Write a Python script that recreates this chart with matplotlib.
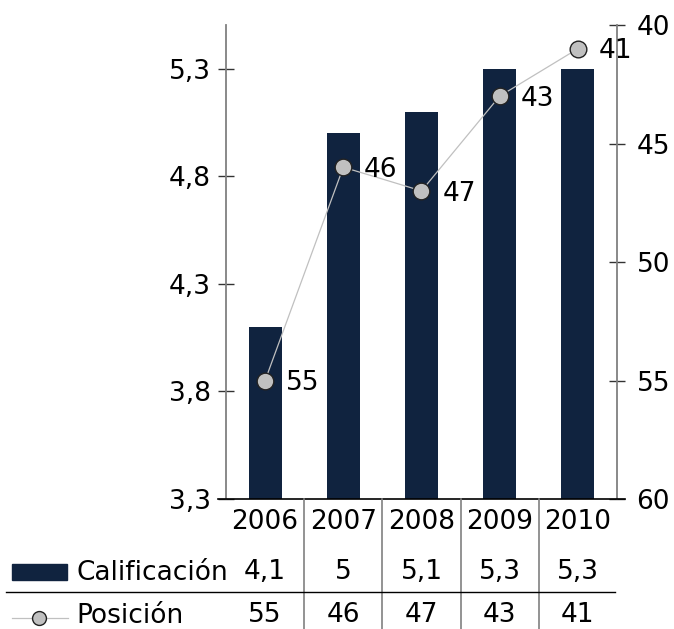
import matplotlib.pyplot as plt
from matplotlib.lines import Line2D
from matplotlib.patches import Rectangle
import matplotlib.transforms as mtransforms

# datos
anios = ["2006", "2007", "2008", "2009", "2010"]
calificacion = [4.1, 5.0, 5.1, 5.3, 5.3]
posicion = [55, 46, 47, 43, 41]
calif_txt = ["4,1", "5", "5,1", "5,3", "5,3"]
ticks_izq = [3.3, 3.8, 4.3, 4.8, 5.3]
ticks_der = [40, 45, 50, 55, 60]

W, H = 674, 629
FS = 19
COLOR_BARRA = "#10233f"
GRIS = "#808080"

plt.rcParams['font.family'] = ['DejaVu Sans']

fig = plt.figure(figsize=(W / 100, H / 100), dpi=100)
ax = fig.add_axes([226 / W, 1 - 499 / H, 391 / W, 474 / H])
ax2 = ax.twinx()

x = list(range(len(anios)))
ax.bar(x, calificacion, width=0.42, color=COLOR_BARRA, zorder=2)
ax.set_xlim(-0.5, len(anios) - 0.5)
ax.set_ylim(3.3, 5.504)
ax.set_yticks(ticks_izq)
ax.set_yticklabels([f"{t:.1f}".replace(".", ",") for t in ticks_izq], fontsize=FS)
ax.set_xticks([])

ax2.plot(x, posicion, color="#c0c0c0", lw=0.9, marker="o", markersize=12,
         markerfacecolor="#c0c0c0", markeredgecolor="#222222", markeredgewidth=1.0, zorder=3)
ax2.set_ylim(60, 40)
ax2.set_yticks(ticks_der)
ax2.tick_params(axis="y", labelsize=FS)
for xi, p in zip(x, posicion):
    ax2.annotate(str(p), (xi, p), xytext=(15, -2), textcoords="offset points",
                 ha="left", va="center", fontsize=FS)

for a in (ax, ax2):
    for s in a.spines.values():
        s.set_visible(False)
    a.tick_params(axis="y", direction="inout", length=12, width=1, color="#333333", pad=5)
ax2.tick_params(axis="y", pad=8)
ax.spines["left"].set_visible(True)
ax.spines["left"].set_color(GRIS)
ax.spines["left"].set_linewidth(1.3)
ax2.spines["right"].set_visible(True)
ax2.spines["right"].set_color(GRIS)
ax2.spines["right"].set_linewidth(1.3)

# linea base
fig.add_artist(Line2D([218 / W, 625 / W], [1 - 499 / H] * 2, color="black", lw=1.2))

# tabla de datos bajo el grafico
tr = mtransforms.blended_transform_factory(ax.transData, fig.transFigure)
for xi, a in zip(x, anios):
    fig.text(xi, 1 - 522 / H, a, transform=tr, ha="center", va="center", fontsize=FS)
for xi, c in zip(x, calif_txt):
    fig.text(xi, 1 - 572 / H, c, transform=tr, ha="center", va="center", fontsize=FS)
for xi, p in zip(x, posicion):
    fig.text(xi, 1 - 615 / H, str(p), transform=tr, ha="center", va="center", fontsize=FS)
for xs in [0.5, 1.5, 2.5, 3.5]:
    fig.add_artist(Line2D([xs, xs], [1 - 499 / H, 0], transform=tr, color=GRIS, lw=1.2))
fig.add_artist(Line2D([6 / W, 615 / W], [1 - 592 / H] * 2, color="black", lw=1.0))

# leyenda dentro de la tabla
fig.add_artist(Rectangle((12 / W, 1 - 580 / H), 55 / W, 16 / H,
                         transform=fig.transFigure, color=COLOR_BARRA))
fig.text(76 / W, 1 - 573 / H, "Calificación", ha="left", va="center", fontsize=FS)
fig.add_artist(Line2D([12 / W, 68 / W], [1 - 618 / H] * 2, color="#c0c0c0", lw=0.9))
fig.add_artist(Line2D([39 / W], [1 - 618 / H], marker="o", markersize=10,
                      markerfacecolor="#c0c0c0", markeredgecolor="#222222", markeredgewidth=1.0))
fig.text(76 / W, 1 - 616 / H, "Posición", ha="left", va="center", fontsize=FS)

fig.savefig("out.png", dpi=100)
